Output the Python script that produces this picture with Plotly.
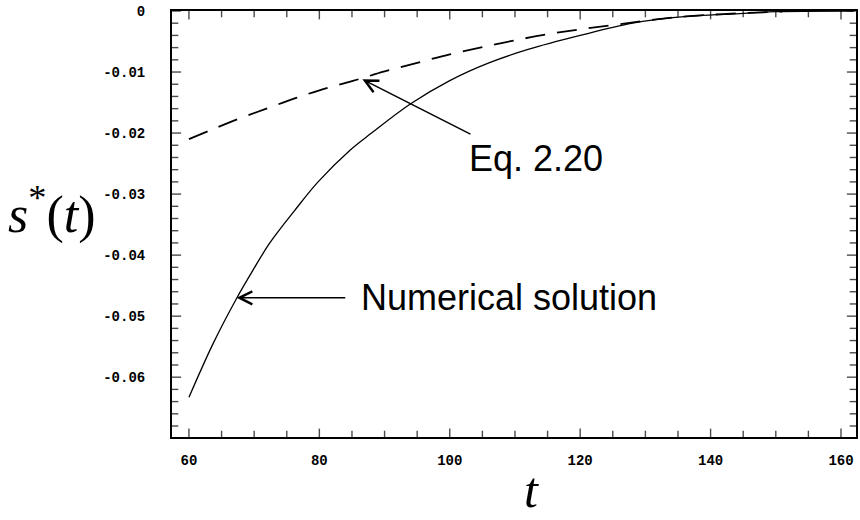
import plotly.graph_objects as go

# Numerical solution (solid)
t_num = [60, 63.7, 67.3, 69.8, 72.4, 76.2, 79.8, 84.7, 88.0, 94.0, 100, 106,
         112, 120, 128, 135, 145, 150, 162]
s_num = [-0.0633, -0.0545, -0.0471, -0.0425, -0.0380, -0.0327, -0.0280, -0.0228,
         -0.0200, -0.0152, -0.0114, -0.0085, -0.0063, -0.0040, -0.0020, -0.0010,
         -0.0004, -0.0001, 0.0]

# Eq. 2.20 (dashed)
t_eq = [60, 67.5, 72.4, 76, 80, 85, 90, 95, 100, 105, 110, 115, 120, 125, 130,
        135, 142, 151]
s_eq = [-0.0210, -0.0177, -0.0158, -0.0144, -0.0130, -0.0115, -0.0099, -0.0085,
        -0.0071, -0.0059, -0.0048, -0.0038, -0.0030, -0.0023, -0.0016, -0.0010,
        -0.0005, -0.0001]

x_ticks = [60, 80, 100, 120, 140, 160]
x_ticktext = ["60", "80", "100", "120", "140", "160"]
y_ticks = [0, -0.01, -0.02, -0.03, -0.04, -0.05, -0.06]
y_ticktext = ["0", "-0.01", "-0.02", "-0.03", "-0.04", "-0.05", "-0.06"]
x_minor_step = 5
y_minor_step = 0.002

X_RANGE = [57.4, 162.3]
Y_RANGE = [-0.0698, 0.0]

fig = go.Figure()
fig.add_trace(go.Scatter(x=t_eq, y=s_eq, mode="lines",
                         line=dict(color="black", width=1.8, dash="20px,12px"),
                         line_shape="spline", showlegend=False))
fig.add_trace(go.Scatter(x=t_num, y=s_num, mode="lines",
                         line=dict(color="black", width=1.3),
                         line_shape="spline", showlegend=False))

# inward frame ticks: tick-shaped markers centred on the frame edge,
# the outer half clipped away by the plot area
x_minor = [x_ticks[0] + i * x_minor_step
           for i in range(int((x_ticks[-1] - x_ticks[0]) / x_minor_step) + 1)]
y_minor = [round(y_ticks[0] - i * y_minor_step, 4)
           for i in range(int((Y_RANGE[1] - Y_RANGE[0]) / y_minor_step) + 1)]
x_sizes = [12 if v in x_ticks else 9 for v in x_minor]
y_sizes = [13 if any(abs(v - t) < 1e-9 for t in y_ticks) else 9 for v in y_minor]

for edge in Y_RANGE:
    fig.add_trace(go.Scatter(
        x=x_minor, y=[edge] * len(x_minor), mode="markers", cliponaxis=True,
        marker=dict(symbol="line-ns", size=x_sizes, color="black",
                    line=dict(width=1.4, color="black")),
        hoverinfo="skip", showlegend=False))
for edge in X_RANGE:
    fig.add_trace(go.Scatter(
        x=[edge] * len(y_minor), y=y_minor, mode="markers", cliponaxis=True,
        marker=dict(symbol="line-ew", size=y_sizes, color="black",
                    line=dict(width=1.4, color="black")),
        hoverinfo="skip", showlegend=False))

tickfont = dict(family="Courier New, Liberation Mono, monospace", size=14,
                color="black", weight="bold")
CLEAR = "rgba(0,0,0,0)"

fig.update_layout(
    xaxis=dict(range=X_RANGE, tickmode="array", tickvals=x_ticks,
               ticktext=x_ticktext, ticks="outside", ticklen=9, tickcolor=CLEAR,
               tickfont=tickfont, showline=True, linecolor="black", linewidth=2,
               mirror=True, showgrid=False, zeroline=False),
    yaxis=dict(range=Y_RANGE, tickmode="array", tickvals=y_ticks,
               ticktext=y_ticktext, ticks="outside", ticklen=22, tickcolor=CLEAR,
               tickfont=tickfont, showline=True, linecolor="black", linewidth=2,
               mirror=True, showgrid=False, zeroline=False),
)

annots = [
    dict(x=86.6, y=-0.0112, ax=103.4, ay=-0.0203, xref="x", yref="y",
         axref="x", ayref="y", showarrow=True, arrowhead=5, arrowsize=1.7,
         arrowwidth=1.5, arrowcolor="black", text=""),
    dict(x=67.3, y=-0.0470, ax=84.2, ay=-0.0470, xref="x", yref="y",
         axref="x", ayref="y", showarrow=True, arrowhead=5, arrowsize=1.7,
         arrowwidth=1.5, arrowcolor="black", text=""),
    dict(x=113.2, y=-0.0241, xref="x", yref="y", text="Eq. 2.20", showarrow=False,
         font=dict(family="Liberation Sans", size=36, color="black")),
    dict(x=86.1, y=-0.0470, xref="x", yref="y", text="Numerical solution",
         showarrow=False, xanchor="left",
         font=dict(family="Liberation Sans", size=36, color="black")),
    dict(x=-0.175, y=0.53, xref="paper", yref="paper", xanchor="center",
         yanchor="middle",
         text="<i>s</i><sup>*</sup>(<i>t</i>)", showarrow=False,
         font=dict(family="Liberation Serif", size=52, color="black")),
    dict(x=0.525, y=-0.124, xref="paper", yref="paper", xanchor="center",
         yanchor="middle", text="<i>t</i>",
         showarrow=False, font=dict(family="Liberation Serif", size=50, color="black")),
]
fig.update_layout(width=860, height=520, margin=dict(l=172, r=2, t=11, b=83),
                  paper_bgcolor="white", plot_bgcolor="white",
                  annotations=annots)
fig.write_html("out.html")
